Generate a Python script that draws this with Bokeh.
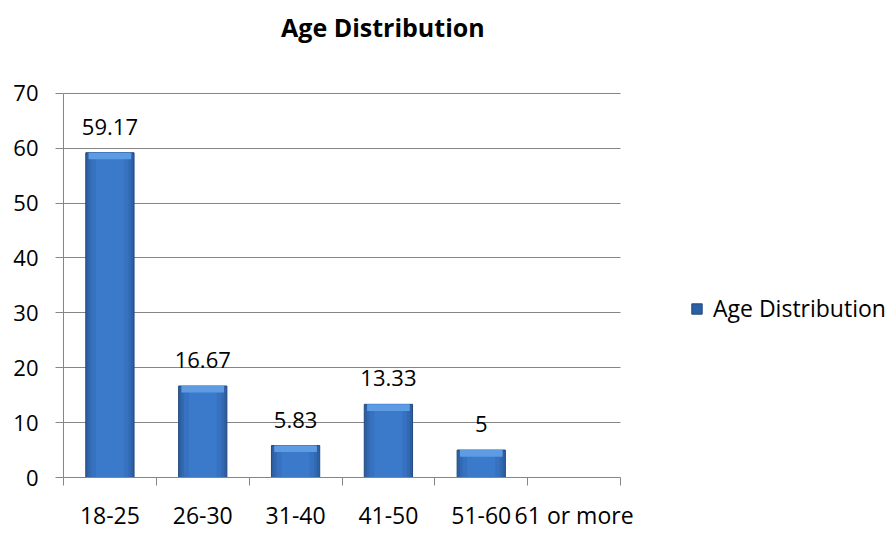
from bokeh.plotting import figure
from bokeh.models import (Range1d, FixedTicker, ColumnDataSource, LabelSet, Label,
                          Legend, LegendItem, BoxAnnotation)
from bokeh.core.properties import value
from bokeh.embed import file_html
from bokeh.resources import INLINE

title_text = "Age Distribution"
series_name = "Age Distribution"
categories = ["18-25", "26-30", "31-40", "41-50", "51-60", "61 or more"]
values = [59.17, 16.67, 5.83, 13.33, 5, None]
y_ticks = [0, 10, 20, 30, 40, 50, 60, 70]
y_max = 70

FONT = "Open Sans"
n = len(categories)
xs = [i + 0.5 for i in range(n)]
bar_x = [x for x, v in zip(xs, values) if v is not None]
bar_v = [v for v in values if v is not None]
bar_lbl = [("%g" % v) for v in bar_v]

# layout: the frame covers the top and right of the canvas so that the title
# and legend are drawn inside it; axes are bounded to the chart area
W, H = 889, 533
LEFT, BOTTOM = 63, 55
PLOT_W, PLOT_TOP = 557, 93
x_end = n * (W - LEFT) / PLOT_W
y_end = y_max * (H - BOTTOM) / (H - BOTTOM - PLOT_TOP)

src = ColumnDataSource(dict(x=bar_x, top=bar_v, lbl=bar_lbl,
                            bevel=[v - 1.2 for v in bar_v]))

p = figure(width=W, height=H, output_backend="svg", toolbar_location=None,
           x_range=Range1d(0, x_end), y_range=Range1d(0, y_end),
           min_border_left=LEFT, min_border_right=0, min_border_top=0,
           min_border_bottom=BOTTOM)
p.outline_line_color = None
p.background_fill_color = "white"
p.border_fill_color = "white"

# grid, masked to the right of the category area
p.xgrid.visible = False
p.ygrid.grid_line_color = "#868686"
p.ygrid.ticker = FixedTicker(ticks=y_ticks)
p.ygrid.level = "underlay"
p.add_layout(BoxAnnotation(left=n, fill_color="white", fill_alpha=1,
                           line_color=None, level="underlay"))

# bars (layered to imitate the bevel/gradient)
outer = p.vbar(x="x", top="top", bottom=0, width=0.52, source=src,
               fill_color="#2D5FA3", line_color="#21497E", line_width=1)
p.vbar(x="x", top="top", bottom=0, width=0.46, source=src,
       fill_color="#3369B3", line_color=None)
p.vbar(x="x", top="top", bottom=0, width=0.40, source=src,
       fill_color="#3772C1", line_color=None)
p.vbar(x="x", top="top", bottom=0, width=0.30, source=src,
       fill_color="#3B7ACB", line_color=None)
p.vbar(x="x", top="top", bottom="bevel", width=0.46, source=src,
       fill_color="#5D9BE3", line_color=None)

p.yaxis.ticker = FixedTicker(ticks=y_ticks)
p.yaxis.bounds = (0, y_max)
p.yaxis.minor_tick_line_color = None
p.yaxis.major_tick_in = 0
p.yaxis.major_tick_out = 8
p.yaxis.axis_line_color = "#868686"
p.yaxis.major_tick_line_color = "#868686"
p.yaxis.major_label_text_font = FONT
p.yaxis.major_label_text_font_size = "22px"
p.yaxis.major_label_text_color = "black"
p.yaxis.major_label_standoff = 17

p.xaxis.ticker = FixedTicker(ticks=xs, minor_ticks=list(range(n + 1)))
p.xaxis.bounds = (0, n)
p.xaxis.major_label_overrides = {x: c for x, c in zip(xs, categories)}
p.xaxis.major_tick_in = 0
p.xaxis.major_tick_out = 0
p.xaxis.minor_tick_in = 0
p.xaxis.minor_tick_out = 8
p.xaxis.minor_tick_line_color = "#868686"
p.xaxis.axis_line_color = "#868686"
p.xaxis.major_label_text_font = FONT
p.xaxis.major_label_text_font_size = "23px"
p.xaxis.major_label_text_color = "black"
p.xaxis.major_label_standoff = 13

# data labels
p.add_layout(LabelSet(x="x", y="top", text="lbl", source=src, y_offset=18,
                      text_align="center", text_baseline="alphabetic",
                      text_font=value(FONT), text_font_size=value("22px"),
                      text_color="black"))

# title
p.add_layout(Label(x=3.44, y=82.0, text=title_text, text_align="center",
                   text_baseline="middle", text_font=FONT,
                   text_font_style="bold", text_font_size="25px",
                   text_color="black"))

legend = Legend(items=[LegendItem(label=series_name, renderers=[outer])],
                location=(627, 153), orientation="vertical",
                label_text_font=FONT, label_text_font_size="23px",
                label_text_color="black",
                glyph_width=13, glyph_height=13, padding=0, margin=0,
                border_line_color=None, background_fill_alpha=0,
                label_standoff=10)
p.add_layout(legend, "center")

open("out.html", "w").write(file_html(p, INLINE))
